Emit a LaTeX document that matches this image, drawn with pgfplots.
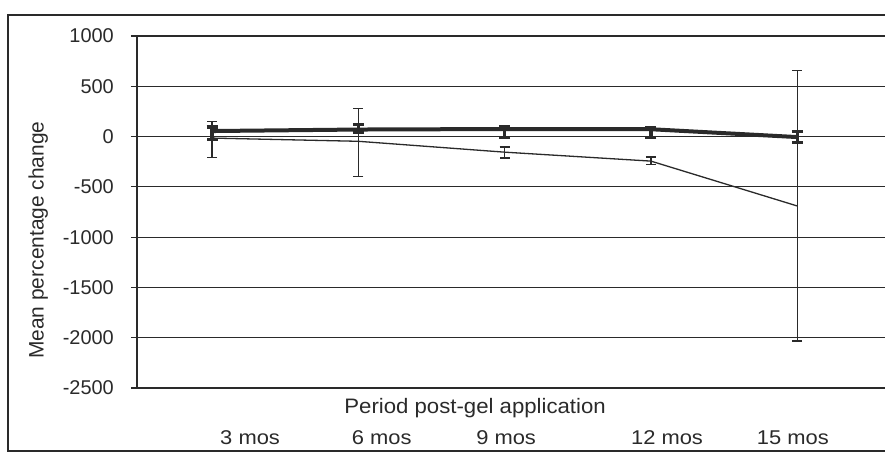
\documentclass[border=0pt]{standalone}
\usepackage{fontspec}
\setmainfont{Liberation Sans}
\usepackage{pgfplots}
\pgfplotsset{compat=1.18}
\definecolor{ink}{HTML}{2A2A2A}
\begin{document}
\begin{tikzpicture}
\begin{axis}[
  name=ax,
  scale only axis,
  width=748bp, height=352bp,
  xmin=-0.513, xmax=4.60,
  ymin=-2500, ymax=1000,
  ytick={-2500,-2000,...,1000},
  xtick={0.26,1.16,2.01,3.11,3.97},
  xticklabels={3 mos,6 mos,9 mos,12 mos,15 mos},
  axis x line*=bottom, axis y line*=left,
  ymajorgrids, grid style={ink, line width=1.1bp},
  axis line style={ink, line width=1.1bp},
  ytick style={ink, line width=1.1bp},
  xtick style={draw=none},
  tick align=outside, major tick length=6bp,
  tick label style={font=\fontsize{20}{22}\selectfont, text=ink},
  /pgf/number format/assume math mode=true,
  /pgf/number format/1000 sep={},
  yticklabel style={anchor=east, inner sep=0pt},
  yticklabel shift=17bp,
  xticklabel style={anchor=center, inner sep=0pt, xscale=1.1},
  xticklabel shift=44bp,
  xlabel={Period post-gel application},
  ylabel={Mean percentage change},
  label style={font=\fontsize{21}{23}\selectfont, text=ink},
  xlabel style={at={(axis description cs:0.452,-0.057)}, anchor=center, xscale=1.06},
  ylabel style={at={(axis description cs:-0.132,0.42)}, anchor=center},
  clip=false,
]
% declining series (thin)
\addplot[ink, line width=1.3bp, mark=none,
  error bars/.cd, y dir=both, y explicit,
  error bar style={ink, line width=1.3bp},
  error mark options={rotate=90, mark size=5bp, line width=1.3bp}]
  table[x=x, y=y, y error plus=ep, y error minus=em] {
x y ep em
0 -15 165 195
1 -47 327 350
2 -155 50 57
3 -244 40 33
4 -690 1347 1343
};
% thick series
\addplot[ink, line width=4bp, mark=none,
  error bars/.cd, y dir=both, y explicit,
  error bar style={ink, line width=3.2bp},
  error mark options={rotate=90, mark size=5.5bp, line width=3.2bp}]
  table[x=x, y=y, y error plus=ep, y error minus=em] {
x y ep em
0 55 40 88
1 70 48 32
2 75 22 85
3 73 17 83
4 -5 52 55
};
\end{axis}
\draw[ink, line width=1.3bp] (-129bp,-63bp) rectangle (770bp,373bp);
\pgfresetboundingbox
\path[use as bounding box] (-137bp,-67bp) rectangle (748bp,388bp);
\end{tikzpicture}
\end{document}
